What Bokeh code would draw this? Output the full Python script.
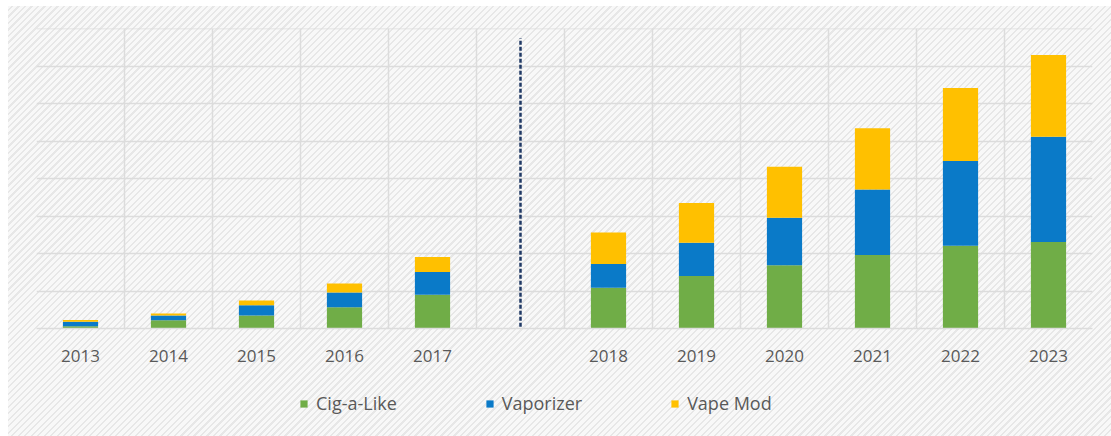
from bokeh.plotting import figure
from bokeh.layouts import column
from bokeh.models import ColumnDataSource, FixedTicker, Range1d, Grid, Legend, LegendItem
from bokeh.embed import file_html
from bokeh.resources import INLINE

# ---- data (arbitrary units = one gridline step) ----
years = ["2013", "2014", "2015", "2016", "2017", "2018", "2019", "2020", "2021", "2022", "2023"]
cig_a_like = [0.06, 0.22, 0.35, 0.57, 0.90, 1.09, 1.40, 1.69, 1.96, 2.21, 2.31]
vaporizer = [0.12, 0.13, 0.27, 0.39, 0.61, 0.63, 0.89, 1.27, 1.75, 2.26, 2.81]
vape_mod = [0.05, 0.05, 0.13, 0.24, 0.40, 0.84, 1.06, 1.36, 1.64, 1.95, 2.18]
series_names = ["Cig-a-Like", "Vaporizer", "Vape Mod"]
forecast_start = "2018"   # an empty slot and a dashed divider precede this year

# ---- styling ----
colors = ["#70AD47", "#0A7AC8", "#FFC000"]
grid_color = "#DCDCDC"
text_color = "#595959"
font = "Open Sans"

n_slots = len(years) + 1
gap_index = years.index(forecast_start)
slot = [i if i < gap_index else i + 1 for i in range(len(years))]
xpos = [s + 0.5 for s in slot]
divider_x = gap_index + 0.5

src = ColumnDataSource(dict(x=xpos, cig=cig_a_like, vap=vaporizer, mod=vape_mod))
stack_cols = ["cig", "vap", "mod"]

p = figure(width=1111, height=380, output_backend="svg", toolbar_location=None,
           x_range=Range1d(0, n_slots), y_range=Range1d(0, 8.01),
           min_border_left=36, min_border_right=19, min_border_top=28, min_border_bottom=52)
p.background_fill_color = None
p.border_fill_color = None
p.outline_line_color = None

# grids
p.xgrid.visible = False
p.ygrid.ticker = FixedTicker(ticks=list(range(0, 9)))
p.ygrid.grid_line_color = grid_color
p.ygrid.grid_line_width = 1.5
vgrid = Grid(dimension=0, ticker=FixedTicker(ticks=list(range(0, n_slots + 1))),
             grid_line_color=grid_color, grid_line_width=1.5)
p.add_layout(vgrid)

# axes
p.yaxis.visible = False
xa = p.xaxis[0]
xa.ticker = FixedTicker(ticks=xpos)
xa.major_label_overrides = {x: y for x, y in zip(xpos, years)}
xa.major_tick_line_color = None
xa.minor_tick_line_color = None
xa.axis_line_color = grid_color
xa.axis_line_width = 1.5
xa.major_label_text_font = font
xa.major_label_text_font_size = "17px"
xa.major_label_text_color = text_color
xa.major_label_standoff = 15

p.vbar_stack(stack_cols, x="x", width=0.4, color=colors, line_color=None, source=src)

# dashed divider between history and forecast
p.segment(x0=[divider_x], y0=[0.05], x1=[divider_x], y1=[7.75],
          line_color="#1F3864", line_width=2.5, line_dash="4 2")

# ---- legend strip (separate figure so the legend is not clipped) ----
# the same stacks are drawn here far outside the visible y-range; they only feed the legend
p2 = figure(width=1111, height=56, output_backend="svg", toolbar_location=None,
            x_range=Range1d(0, n_slots), y_range=Range1d(50, 51),
            x_axis_location=None, y_axis_location=None, min_border=0)
p2.grid.visible = False
p2.background_fill_color = None
p2.border_fill_color = None
p2.outline_line_color = None
proxies = p2.vbar_stack(stack_cols, x="x", width=0.4, color=colors, line_color=None, source=src)

legend = Legend(items=[LegendItem(label=n, renderers=[r]) for n, r in zip(series_names, proxies)],
                orientation="horizontal", location=(263, 21),
                label_text_font=font, label_text_font_size="18px", label_text_color=text_color,
                glyph_width=9, glyph_height=9, label_standoff=8, spacing=88,
                background_fill_alpha=0, border_line_color=None, margin=0, padding=0)
p2.add_layout(legend, "center")

layout = column(p, p2, spacing=0)
layout.styles = {"background-image": "repeating-linear-gradient(135deg, #f8f8f8 0px, #f8f8f8 3px, #e7e7e7 3px, #e7e7e7 4.6px)",
                 "box-shadow": "inset 8px 6px 0 0 #ffffff"}

open("out.html", "w").write(file_html(layout, INLINE))
